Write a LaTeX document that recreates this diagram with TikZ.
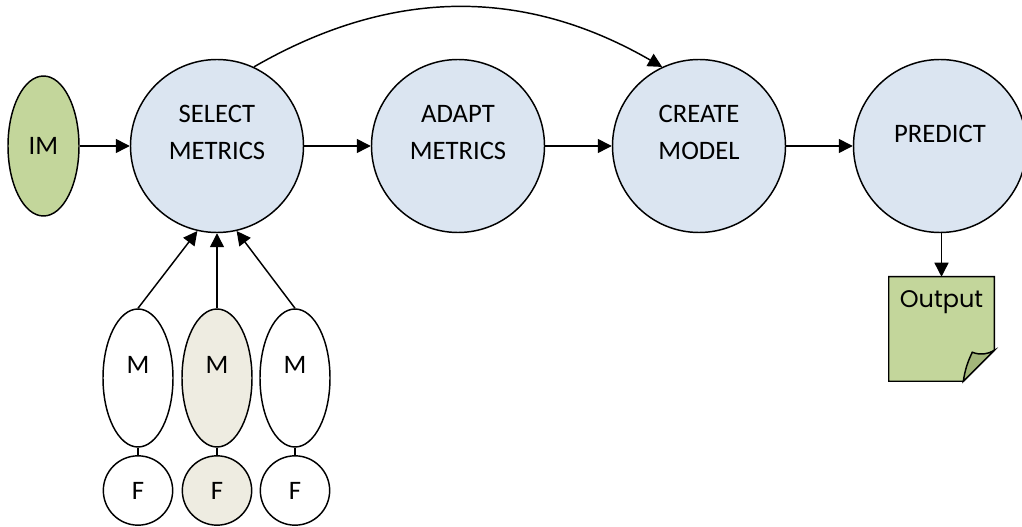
\documentclass[tikz,border=0pt]{standalone}
\usepackage{fontspec}
\setmainfont{Carlito}
\newfontfamily\outputfont{Poppins}
\usetikzlibrary{arrows.meta,shapes.geometric}
\pgfdeclarelayer{background}
\pgfsetlayers{background,main}
\definecolor{stageblue}{HTML}{DBE5F1}
\definecolor{leafgreen}{HTML}{C3D69B}
\definecolor{foldgreen}{HTML}{A3B67A}
\definecolor{pickgrey}{HTML}{EEECE1}
\tikzset{
  every node/.style={font=\fontsize{20}{28}\selectfont},
  stage/.style={circle,draw,line width=1.1pt,fill=stageblue,minimum size=129.75pt,inner sep=0pt},
  stagetext/.style={align=center,yshift=10pt},
  metric/.style={ellipse,draw,line width=1.1pt,minimum width=52.5pt,minimum height=103.5pt,inner sep=0pt},
  family/.style={circle,draw,line width=1.1pt,minimum size=52pt,inner sep=0pt},
  arr/.style={-{Triangle[length=10.5pt,width=10.5pt]},line width=1.1pt},
}

\begin{document}
\begin{tikzpicture}[x=0.75pt,y=-0.75pt]
                \useasboundingbox (0,0) rectangle (1022,527);
                \node[ellipse,draw,line width=1.1pt,fill=leafgreen,minimum width=53.25pt,minimum height=105pt,inner sep=0pt] (im) at (43.5,146) {IM};
                \node[stage,label={[stagetext]center:{SELECT\\METRICS}}] (sel) at (217,146) {};
                \node[stage,label={[stagetext]center:{ADAPT\\METRICS}}] (ada) at (458,146) {};
                \node[stage,label={[stagetext]center:{CREATE\\MODEL}}] (cre) at (699,146) {};
                \node[stage,label={[stagetext,yshift=-1pt]center:PREDICT}] (pre) at (940,146) {};
                \draw[arr] (im) -- (sel);
                \draw[arr] (sel) -- (ada);
                \draw[arr] (ada) -- (cre);
                \draw[arr] (cre) -- (pre);
                \draw[arr] (sel.65) to[out=30,in=150] (cre.115);
                \foreach \i/\x/\c in {1/138/white,2/217/pickgrey,3/295/white}{
                  \node[metric,fill=\c,label={[yshift=9.75pt]center:M}] (m\i) at (\x,378) {};
                  \node[family,fill=\c] (f\i) at (\x,490.5) {F};
                  \draw[line width=1.1pt] (m\i) -- (f\i);
                }
                \draw[arr] (m1.north) -- (sel.257);
                \draw[arr] (m2.north) -- (sel.270);
                \draw[arr] (m3.north) -- (sel.283);
                \node[minimum width=78.75pt,minimum height=78pt,inner sep=0pt,
                  label={[font=\outputfont\fontsize{18}{22}\selectfont,yshift=20pt]center:Output}] (out) at (941.5,329) {};
                \begin{pgfonlayer}{background}
                  \draw[line width=1.1pt,fill=leafgreen] (out.north west) -- (out.north east)
                    -- ([yshift=23.25pt]out.south east) -- ([xshift=-23.25pt]out.south east)
                    -- (out.south west) -- cycle;
                  \draw[line width=1.1pt,fill=foldgreen] ([xshift=-23.25pt]out.south east)
                    to[bend left=8] ([xshift=-16.5pt,yshift=21.75pt]out.south east)
                    to[bend right=25] ([yshift=23.25pt]out.south east) -- cycle;
                \end{pgfonlayer}
                \draw[arr] (out.north |- pre.south) -- (out.north);
            \end{tikzpicture}
\end{document}
